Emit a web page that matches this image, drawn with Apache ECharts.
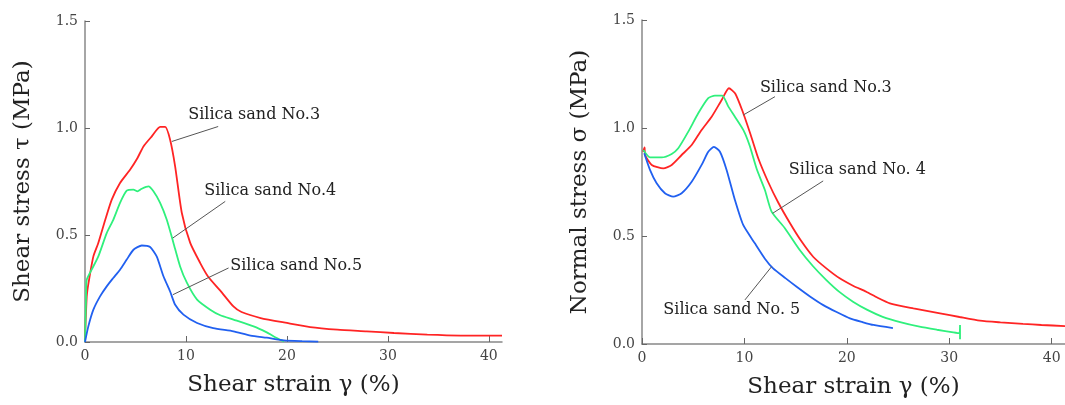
<!DOCTYPE html>
<html>
<head>
<meta charset="utf-8">
<script src="https://cdn.jsdelivr.net/npm/echarts@6/dist/echarts.min.js"></script>
<style>
  html, body { margin: 0; padding: 0; background: #fff; }
  #chart { width: 1065px; height: 405px; }
</style>
</head>
<body>
<div id="chart"></div>
<script>
// tick values
const xTicks = [0, 10, 20, 30, 40];
const yTicks = [0, 0.5, 1.0, 1.5];

// shear stress tau vs shear strain (left)
const tau3 = [[0,0.01],[0.17,0.21],[0.33,0.27],[0.83,0.40],[1.3,0.46],[2.0,0.57],[2.65,0.665],[3.47,0.743],[4.46,0.805],[5.2,0.86],[5.79,0.914],[6.6,0.96],[7.44,1.005],[7.94,1.005],[8.43,0.945],[8.93,0.82],[9.59,0.603],[10.42,0.463],[11.4,0.37],[12.2,0.305],[13.4,0.24],[14.7,0.166],[15.5,0.14],[17.4,0.112],[20.0,0.089],[22.3,0.07],[25,0.058],[27.9,0.05],[30.6,0.042],[33.9,0.034],[37.2,0.03],[41.3,0.03]];
const tau4 = [[0,0],[0.1,0.2],[0.17,0.29],[0.66,0.338],[1.32,0.40],[2.15,0.509],[2.8,0.571],[3.47,0.65],[4.13,0.707],[4.8,0.712],[5.19,0.704],[5.62,0.716],[6.28,0.727],[6.78,0.704],[7.44,0.65],[8.1,0.571],[8.76,0.463],[9.42,0.353],[10.1,0.276],[11.1,0.198],[12.4,0.151],[13.4,0.125],[14.7,0.105],[16.7,0.073],[18.0,0.045],[18.7,0.026],[19.7,0.003]];
const tau5 = [[0,0],[0.33,0.073],[0.83,0.151],[1.49,0.213],[2.15,0.26],[2.8,0.299],[3.47,0.338],[4.13,0.385],[4.8,0.431],[5.62,0.451],[6.45,0.444],[7.1,0.40],[7.77,0.307],[8.43,0.236],[8.93,0.174],[9.75,0.128],[11.1,0.089],[12.7,0.065],[14.7,0.05],[16.4,0.03],[18.0,0.02],[19.7,0.008],[21.5,0.004],[23.1,0.002]];

// normal stress sigma vs shear strain (right)
const sig3 = [[0.1,0.89],[0.25,0.91],[0.3,0.875],[0.95,0.829],[2.08,0.813],[2.9,0.829],[3.87,0.875],[4.85,0.921],[5.82,0.991],[6.8,1.052],[7.78,1.13],[8.49,1.184],[9.1,1.16],[9.8,1.08],[10.6,0.97],[11.35,0.86],[12.32,0.75],[13.3,0.655],[14.44,0.56],[15.5,0.48],[16.71,0.404],[18.0,0.35],[19.3,0.304],[20.6,0.27],[21.9,0.242],[23.0,0.214],[24.2,0.188],[26.5,0.165],[29.1,0.142],[31.0,0.125],[33.0,0.108],[35.0,0.1],[37.2,0.093],[39.0,0.088],[41.3,0.083]];
const sig4 = [[0.13,0.898],[0.78,0.864],[1.92,0.864],[2.9,0.88],[3.54,0.906],[4.52,0.983],[5.49,1.068],[6.47,1.138],[7.12,1.15],[7.84,1.15],[8.42,1.10],[9.1,1.05],[9.9,0.99],[10.5,0.92],[11.2,0.81],[12.0,0.713],[12.65,0.613],[13.95,0.536],[15.4,0.435],[16.7,0.36],[18.0,0.296],[19.3,0.24],[20.6,0.196],[22.0,0.158],[23.5,0.126],[25.3,0.1],[27.1,0.08],[28.8,0.066],[30.4,0.054],[31.0,0.05],[31.05,0.088],[31.05,0.022]];
const sig5 = [[0.22,0.883],[0.78,0.806],[1.43,0.744],[2.24,0.698],[3.05,0.682],[3.87,0.698],[4.85,0.751],[5.82,0.829],[6.47,0.89],[7.02,0.913],[7.61,0.89],[8.26,0.806],[9.07,0.667],[9.88,0.551],[11.02,0.466],[12.0,0.395],[12.8,0.35],[14.0,0.305],[15.1,0.265],[16.4,0.22],[17.7,0.18],[19.0,0.148],[20.3,0.119],[21.5,0.102],[22.6,0.088],[24.5,0.073]];

// annotation text anchor (left edge) and leader lines, data coords
const leftNotes = [
  { text: 'Silica sand No.3', at: [10.22, 1.062], line: [[13.19, 1.007], [8.60, 0.937]] },
  { text: 'Silica sand No.4', at: [11.81, 0.708], line: [[13.89, 0.657], [8.70, 0.486]] },
  { text: 'Silica sand No.5', at: [14.38, 0.358], line: [[14.22, 0.346], [8.70, 0.221]] }
];
const rightNotes = [
  { text: 'Silica sand No.3', at: [11.51, 1.188], line: [[12.98, 1.145], [9.88, 1.06]] },
  { text: 'Silica sand No. 4', at: [14.34, 0.806], line: [[17.69, 0.755], [12.75, 0.605]] },
  { text: 'Silica sand No. 5', at: [2.08, 0.157], line: [[10.05, 0.204], [12.65, 0.358]] }
];

const RED = '#ff2424', GREEN = '#2ff07c', BLUE = '#2160f0';
const FONT = 'DejaVu Serif';
const chart = echarts.init(document.getElementById('chart'));

const xAxisCfg = (gridIndex) => ({
  type: 'value', gridIndex, min: 0, max: 41.3,
  name: 'Shear strain \u03b3 (%)', nameLocation: 'middle', nameGap: 32,
  nameTextStyle: { fontFamily: FONT, fontSize: 23, color: '#222' },
  axisLine: { show: true, lineStyle: { color: '#888', width: 1.5 } },
  axisTick: { show: true, inside: true, length: 6, customValues: xTicks, lineStyle: { color: '#666' } },
  axisLabel: { customValues: xTicks, fontFamily: FONT, fontSize: 14, color: '#444', margin: 7 },
  splitLine: { show: false }
});
const yAxisCfg = (gridIndex, name) => ({
  type: 'value', gridIndex, min: 0, max: 1.5,
  name, nameLocation: 'middle', nameGap: 50,
  nameTextStyle: { fontFamily: FONT, fontSize: 23, color: '#222' },
  axisLine: { show: true, lineStyle: { color: '#888', width: 1.5 } },
  axisTick: { show: true, inside: true, length: 5, customValues: yTicks, lineStyle: { color: '#666' } },
  axisLabel: { customValues: yTicks, formatter: (v) => v.toFixed(1), fontFamily: FONT, fontSize: 14, color: '#444', margin: 7 },
  splitLine: { show: false }
});

const curve = (data, color, idx, notes) => {
  const s = {
    type: 'line', data, xAxisIndex: idx, yAxisIndex: idx,
    showSymbol: false, symbol: 'none', silent: true, smooth: 0.2,
    lineStyle: { color, width: 1.8 }, z: 3
  };
  if (notes) {
    s.markLine = {
      silent: true, symbol: 'none', animation: false,
      lineStyle: { color: '#555', width: 1, type: 'solid' },
      label: { show: false },
      data: [[{ coord: notes.line[0] }, { coord: notes.line[1] }]]
    };
    s.markPoint = {
      silent: true, animation: false, symbol: 'circle', symbolSize: 0,
      data: [{
        coord: notes.at,
        label: { show: true, position: 'right', distance: 0, formatter: notes.text,
          fontFamily: FONT, fontSize: 16, color: '#222' }
      }]
    };
  }
  return s;
};

chart.setOption({
  animation: false,
  grid: [
    { left: 85, top: 21, width: 417, height: 321 },
    { left: 642, top: 20, width: 423, height: 324 }
  ],
  xAxis: [xAxisCfg(0), xAxisCfg(1)],
  yAxis: [yAxisCfg(0, 'Shear stress \u03c4 (MPa)'), yAxisCfg(1, 'Normal stress \u03c3 (MPa)')],
  series: [
    curve(tau3, RED, 0, leftNotes[0]),
    curve(tau4, GREEN, 0, leftNotes[1]),
    curve(tau5, BLUE, 0, leftNotes[2]),
    curve(sig3, RED, 1, rightNotes[0]),
    curve(sig4, GREEN, 1, rightNotes[1]),
    curve(sig5, BLUE, 1, rightNotes[2])
  ]
});

window.addEventListener('resize', () => chart.resize());
</script>
</body>
</html>
